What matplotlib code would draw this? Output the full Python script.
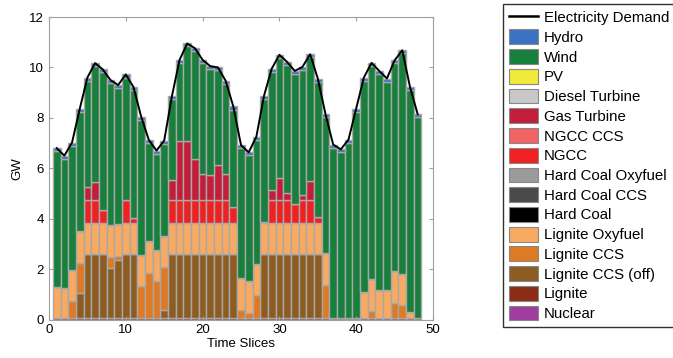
import numpy as np
import matplotlib
matplotlib.use("Agg")
from matplotlib import pyplot as plt
from matplotlib.patches import Patch
from matplotlib.lines import Line2D

plt.rcParams["font.family"] = ["Liberation Sans", "DejaVu Sans"]

slices = np.arange(1, 49)

# values in GW
demand = [6.80, 6.50, 7.02, 8.35, 9.60, 10.17, 9.92, 9.50, 9.30, 9.72, 9.22, 8.05,
          7.12, 6.70, 7.10, 8.85, 10.30, 10.95, 10.76, 10.30, 10.05, 10.00, 9.47, 8.45,
          6.92, 6.63, 7.25, 8.88, 9.95, 10.50, 10.22, 9.86, 10.02, 10.52, 9.56, 8.15,
          6.94, 6.75, 7.14, 8.37, 9.60, 10.18, 9.86, 9.56, 10.28, 10.68, 9.23, 8.15]

nuclear = [0.0] * 48
lignite = [0.06] * 48
lignite_ccs_off = [0, 0, 0, 1.00, 2.52, 2.52, 2.52, 2.00, 2.29, 2.52, 2.52, 0,
                   0, 0, 0.31, 2.52, 2.52, 2.52, 2.52, 2.52, 2.52, 2.52, 2.52, 2.52,
                   0, 0, 0, 2.52, 2.52, 2.52, 2.52, 2.52, 2.52, 2.52, 2.52, 0,
                   0, 0, 0, 0, 0, 0, 0, 0, 0, 0, 0, 0]
lignite_ccs = [0, 0, 0.67, 1.20, 0, 0, 0, 0.42, 0.17, 0, 0, 1.26,
               1.80, 1.47, 1.70, 0, 0, 0, 0, 0, 0, 0, 0, 0,
               0.31, 0.20, 0.90, 0, 0, 0, 0, 0, 0, 0, 0, 1.30,
               0, 0, 0, 0, 0, 0.28, 0, 0, 0.61, 0.51, 0, 0]
lignite_oxy = [1.24, 1.17, 1.25, 1.25, 1.26, 1.26, 1.26, 1.25, 1.28, 1.26, 1.26, 1.23,
               1.24, 1.24, 1.25, 1.26, 1.26, 1.26, 1.26, 1.26, 1.26, 1.26, 1.26, 1.26,
               1.28, 1.27, 1.23, 1.26, 1.26, 1.26, 1.26, 1.26, 1.26, 1.26, 1.26, 1.28,
               0, 0, 0, 0, 1.04, 1.25, 1.10, 1.10, 1.25, 1.25, 0.23, 0]
hard_coal = [0.0] * 48
hard_coal_ccs = [0.0] * 48
hard_coal_oxy = [0.0] * 48
ngcc = [0, 0, 0, 0, 0.89, 0.89, 0.52, 0, 0, 0.89, 0.20, 0,
        0, 0, 0, 0.89, 0.89, 0.89, 0.89, 0.89, 0.89, 0.89, 0.89, 0.63,
        0, 0, 0, 0.03, 0.89, 0.89, 0.89, 0.76, 0.89, 0.89, 0.23, 0,
        0, 0, 0, 0, 0, 0, 0, 0, 0, 0, 0, 0]
ngcc_ccs = [0.0] * 48
gas_turbine = [0, 0, 0, 0, 0.53, 0.72, 0, 0, 0, 0, 0, 0,
               0, 0, 0, 0.79, 2.34, 2.34, 1.64, 1.06, 0.99, 1.39, 1.03, 0,
               0, 0, 0, 0, 0.42, 0.90, 0.29, 0, 0.22, 0.75, 0, 0,
               0, 0, 0, 0, 0, 0, 0, 0, 0, 0, 0, 0]
diesel = [0.0] * 48
pv = [0.0] * 48
wind = [5.38, 5.15, 4.92, 4.72, 4.22, 4.60, 5.44, 5.65, 5.38, 4.87, 5.06, 5.38,
        3.90, 3.81, 3.66, 3.21, 3.11, 3.76, 4.27, 4.39, 4.21, 3.76, 3.59, 3.86,
        5.15, 4.98, 4.94, 4.89, 4.68, 4.75, 5.08, 5.14, 4.95, 4.92, 5.37, 5.39,
        6.76, 6.57, 6.96, 8.19, 8.38, 8.47, 8.58, 8.28, 8.24, 8.74, 8.82, 7.97]
hydro = [0.12] * 48

# bottom-to-top stacking order
series = [
    ("Nuclear", nuclear, "#a03ca0"),
    ("Lignite", lignite, "#8c2c16"),
    ("Lignite CCS (off)", lignite_ccs_off, "#8d5c22"),
    ("Lignite CCS", lignite_ccs, "#de7a24"),
    ("Lignite Oxyfuel", lignite_oxy, "#f8aa62"),
    ("Hard Coal", hard_coal, "#000000"),
    ("Hard Coal CCS", hard_coal_ccs, "#4a4a4a"),
    ("Hard Coal Oxyfuel", hard_coal_oxy, "#9a9a9a"),
    ("NGCC", ngcc, "#ee2222"),
    ("NGCC CCS", ngcc_ccs, "#f06464"),
    ("Gas Turbine", gas_turbine, "#c21e3a"),
    ("Diesel Turbine", diesel, "#c8c8c8"),
    ("PV", pv, "#f2ea3a"),
    ("Wind", wind, "#18803c"),
    ("Hydro", hydro, "#3a72c4"),
]

fig = plt.figure(figsize=(6.73, 3.58), dpi=100)
ax = fig.add_axes([49 / 673, 1 - 319.5 / 358, 384 / 673, 302.5 / 358])

bottom = np.zeros(48)
for name, vals, col in series:
    vals = np.array(vals, dtype=float)
    if vals.sum() > 0:
        ax.bar(slices, vals, bottom=bottom, width=1.0, color=col,
               edgecolor="#a8a8a8", linewidth=1.0)
    bottom += vals

ax.plot(slices, demand, color="black", linewidth=1.4, zorder=5)

ax.set_xlim(0, 50)
ax.set_ylim(0, 12)
ax.set_xticks(range(0, 51, 10))
ax.set_yticks(range(0, 13, 2))
ax.tick_params(direction="in", top=True, right=True, labelsize=9.5,
               color="#a0a0a0", length=3)
for s in ax.spines.values():
    s.set_color("#a0a0a0")
ax.set_xlabel("Time Slices", fontsize=9.5, labelpad=1)
ax.set_ylabel("GW", fontsize=9.5)

handles = [Line2D([0], [0], color="black", linewidth=1.8)]
labels = ["Electricity Demand"]
for name, vals, col in reversed(series):
    handles.append(Patch(facecolor=col, edgecolor="#888888", linewidth=0.8))
    labels.append(name)

fig.legend(handles, labels, loc="upper left", bbox_to_anchor=(503 / 673, 1 - 4 / 358),
           borderaxespad=0, fontsize=10.8, frameon=True, fancybox=False,
           edgecolor="black", handlelength=1.95, handleheight=1.15,
           labelspacing=0.28, handletextpad=0.4, borderpad=0.38)

fig.savefig("out.png", dpi=100)
